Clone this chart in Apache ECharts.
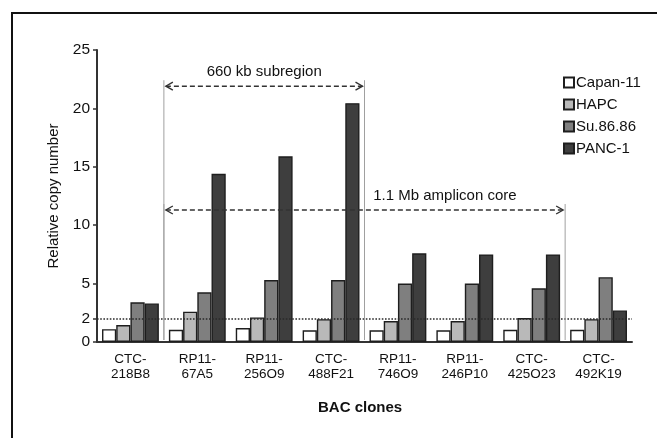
<!DOCTYPE html>
<html>
<head>
<meta charset="utf-8">
<script src="https://cdn.jsdelivr.net/npm/echarts@6/dist/echarts.min.js"></script>
<style>
  html, body { margin: 0; padding: 0; background: #fff; }
  #chart { width: 657px; height: 438px; }
</style>
</head>
<body>
<div id="chart"></div>
<script>
// BAC clone names (two-line labels)
const categories = ['CTC-\n218B8', 'RP11-\n67A5', 'RP11-\n256O9', 'CTC-\n488F21',
                    'RP11-\n746O9', 'RP11-\n246P10', 'CTC-\n425O23', 'CTC-\n492K19'];
const seriesNames = ['Capan-11', 'HAPC', 'Su.86.86', 'PANC-1'];

// Relative copy number per cell line
const capan11 = [1.1, 1.05, 1.2, 1.0, 1.0, 1.0, 1.05, 1.05];
const hapc    = [1.45, 2.6, 2.1, 1.95, 1.8, 1.8, 2.05, 1.95];
const su8686  = [3.4, 4.25, 5.3, 5.3, 5.0, 5.0, 4.6, 5.55];
const panc1   = [3.3, 14.4, 15.9, 20.45, 7.6, 7.5, 7.5, 2.7];

// Y-axis tick labels and the normal copy-number threshold
const yTicks = [0, 2, 5, 10, 15, 20, 25];
const threshold = 2;

// Annotated genomic regions (spans in clone-boundary units, level in copy number)
const regionNames  = ['660 kb subregion', '1.1 Mb amplicon core'];
const regionFrom   = [1, 1];
const regionTo     = [4, 7];
const regionLevel  = [21.9, 11.3];

const fills   = ['#ffffff', '#b9b9b9', '#7f7f7f', '#3e3e3e'];
const values  = [capan11, hapc, su8686, panc1];
const FONT = '"Liberation Sans", Arial, sans-serif';

const barSeries = seriesNames.map((name, i) => ({
  name: name,
  type: 'bar',
  xAxisIndex: 0,
  yAxisIndex: 0,
  data: values[i],
  barGap: '0%',
  barCategoryGap: '15%',
  itemStyle: { color: fills[i], borderColor: '#1e1e1e', borderWidth: 1.4 },
  emphasis: { disabled: true },
  markLine: i === 3 ? {
    silent: true,
    symbol: 'none',
    label: { show: false },
    lineStyle: { color: '#2a2a2a', type: 'dotted', width: 1.6 },
    data: [{ yAxis: threshold }]
  } : undefined
}));

// Dashed double-headed arrows with guide lines and captions
const regionSeries = {
  type: 'custom',
  xAxisIndex: 1,
  yAxisIndex: 0,
  silent: true,
  clip: false,
  z: 5,
  data: regionNames.map((n, i) => [regionFrom[i], regionTo[i], regionLevel[i]]),
  renderItem: function (params, api) {
    const i = params.dataIndex;
    const from = api.value(0), to = api.value(1), level = api.value(2);
    const a = api.coord([from, level]);
    const b = api.coord([to, level]);
    const base = api.coord([0, 0])[1];
    const y = a[1];
    const kids = [];
    // vertical guide lines
    [a[0], b[0]].forEach(function (x) {
      kids.push({
        type: 'line',
        shape: { x1: x, y1: y - 6, x2: x, y2: base - 2 },
        style: { stroke: '#a0a0a0', lineWidth: 1 }
      });
    });
    // dashed shaft
    kids.push({
      type: 'line',
      shape: { x1: a[0] + 2, y1: y, x2: b[0] - 2, y2: y },
      style: { stroke: '#333', lineWidth: 1.4, lineDash: [5, 3] }
    });
    // open chevron heads
    kids.push({
      type: 'polyline',
      shape: { points: [[a[0] + 9, y - 4], [a[0] + 2, y], [a[0] + 9, y + 4]] },
      style: { stroke: '#333', lineWidth: 1.4, fill: null }
    });
    kids.push({
      type: 'polyline',
      shape: { points: [[b[0] - 9, y - 4], [b[0] - 2, y], [b[0] - 9, y + 4]] },
      style: { stroke: '#333', lineWidth: 1.4, fill: null }
    });
    // caption
    const centered = i === 0;
    const tx = centered ? (a[0] + b[0]) / 2 : api.coord([4.13, level])[0];
    kids.push({
      type: 'text',
      x: tx,
      y: y - 14,
      style: {
        text: regionNames[i],
        font: '15px ' + FONT,
        fill: '#111',
        align: centered ? 'center' : 'left',
        verticalAlign: 'middle'
      }
    });
    return { type: 'group', children: kids };
  }
};

const chart = echarts.init(document.getElementById('chart'), null, { renderer: 'canvas' });
chart.setOption({
  animation: false,
  backgroundColor: '#ffffff',
  textStyle: { fontFamily: FONT },
  grid: { left: 97, right: 25, top: 50, bottom: 96, containLabel: false },
  legend: {
    data: seriesNames,
    orient: 'vertical',
    left: 558,
    top: 70,
    itemWidth: 10,
    itemHeight: 10,
    itemGap: 7,
    icon: 'rect',
    textStyle: { fontSize: 15, color: '#111', lineHeight: 14, padding: [0, 0, 0, -3] }
  },
  xAxis: [{
    type: 'category',
    data: categories,
    axisLine: { lineStyle: { color: '#333', width: 2 } },
    axisTick: { show: false },
    axisLabel: { color: '#111', fontSize: 13.5, lineHeight: 15, margin: 10, interval: 0 }
  }, {
    type: 'value',
    min: 0,
    max: 8,
    show: false
  }],
  yAxis: {
    type: 'value',
    min: 0,
    max: 25,
    interval: 5,
    name: 'Relative copy number',
    nameLocation: 'middle',
    nameGap: 32,
    nameTextStyle: { fontSize: 15, color: '#111' },
    splitLine: { show: false },
    axisLine: { show: true, lineStyle: { color: '#333', width: 2 } },
    axisTick: { show: true, length: 4, customValues: yTicks, lineStyle: { color: '#333', width: 1.5 } },
    axisLabel: { color: '#111', fontSize: 15.5, margin: 7, customValues: yTicks }
  },
  graphic: [
    {
      type: 'rect',
      shape: { x: 12, y: 13, width: 700, height: 500 },
      style: { fill: null, stroke: '#111', lineWidth: 2 },
      silent: true
    },
    {
      type: 'text',
      left: 318,
      top: 400,
      style: { text: 'BAC clones', font: 'bold 15px ' + FONT, fill: '#111' },
      silent: true
    }
  ],
  series: barSeries.concat([regionSeries])
});
</script>
</body>
</html>
